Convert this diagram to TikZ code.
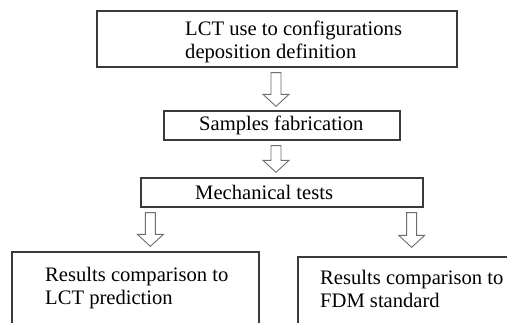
\documentclass[tikz,border=0pt]{standalone}
\usepackage{fontspec}
\setmainfont{Liberation Serif}
\usetikzlibrary{calc}

\definecolor{boxline}{HTML}{3A3A3A}
\definecolor{arrline}{HTML}{6E6E6E}

% hollow block arrow from top point #1 down to tip #2
\newcommand{\hollowarrow}[2]{%
  \draw[harrow] ($(#1)+(-5,0)$) -- ($(#2)+(-5,-12)$) -- ($(#2)+(-13,-12)$) -- (#2)
    -- ($(#2)+(13,-12)$) -- ($(#2)+(5,-12)$) -- ($(#1)+(5,0)$) -- cycle;}

\begin{document}
\begin{tikzpicture}[x=1pt, y=-1pt,
  font=\fontsize{20.6}{23}\selectfont,
  box/.style={draw=boxline, line width=1.3pt, rectangle, inner sep=0pt},
  txt/.style={anchor=base west, align=left, inner sep=0pt},
  harrow/.style={draw=arrline, line width=0.9pt, fill=white, line join=miter}]
\useasboundingbox (0,0) rectangle (507,322);
\clip (0,0) rectangle (507,322);
% boxes
\node[box, minimum width=360pt, minimum height=56pt] (lct) at (277,39) {};
\node[box, minimum width=236pt, minimum height=29pt] (fab) at (282,125.5) {};
\node[box, minimum width=282pt, minimum height=29pt] (mech) at (282,192.5) {};
\node[box, minimum width=247pt, minimum height=90pt] (lctcmp) at (135.5,297) {};
\node[box, minimum width=224pt, minimum height=86pt] (fdmcmp) at (410,300) {};
% texts (base = baseline of the last line)
\node[txt] (lcttxt) at (185,58.3) {LCT use to configurations\\deposition definition};
\node[txt] (fabtxt) at (199,130) {Samples fabrication};
\node[txt] (mechtxt) at (195,199.3) {Mechanical tests};
\node[txt] (lctcmptxt) at (45,304) {Results comparison to\\LCT prediction};
\node[txt] (fdmcmptxt) at (320,307) {Results comparison to\\FDM standard};
% arrows
\coordinate (a1s) at ($(lct.south)+(-1,5)$);
\coordinate (a1e) at ($(fab.north)+(-6,-4)$);
\coordinate (a2s) at ($(fab.south)+(-6,5)$);
\coordinate (a2e) at ($(mech.north)+(-6,-5)$);
\coordinate (a3s) at ($(mech.south west)+(10,5)$);
\coordinate (a3e) at ($(lctcmp.north)+(16,-5)$);
\coordinate (a4s) at ($(mech.south east)+(-12,5)$);
\coordinate (a4e) at ($(fdmcmp.north)+(1,-9)$);
\hollowarrow{a1s}{a1e}
\hollowarrow{a2s}{a2e}
\hollowarrow{a3s}{a3s |- a3e}
\hollowarrow{a4s}{a4s |- a4e}
\end{tikzpicture}
\end{document}
